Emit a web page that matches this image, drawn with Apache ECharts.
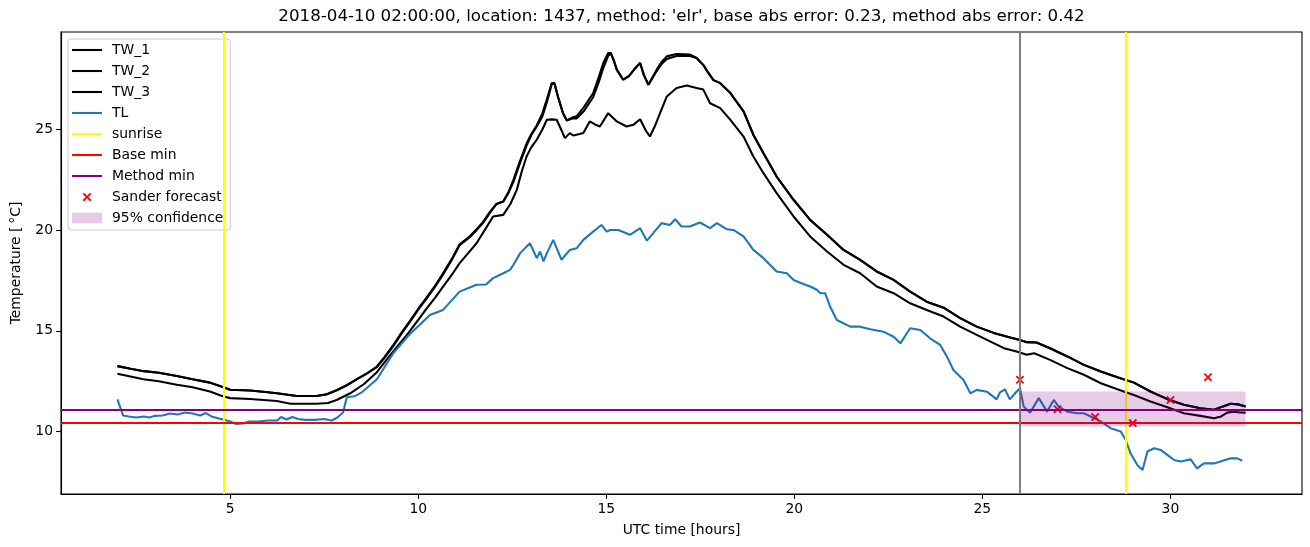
<!DOCTYPE html>
<html>
<head>
<meta charset="utf-8">
<script src="https://cdn.jsdelivr.net/npm/echarts@6/dist/echarts.min.js"></script>
<style>
html,body{margin:0;padding:0;background:#fff;}
#chart{width:1310px;height:547px;}
</style>
</head>
<body>
<div id="chart"></div>
<script>
// ---------------- data ----------------
const titleText = "2018-04-10 02:00:00, location: 1437, method: 'elr', base abs error: 0.23, method abs error: 0.42";
const xTicks = [5, 10, 15, 20, 25, 30];
const yTicks = [10, 15, 20, 25];

const tw12Hours = [2.0,2.35,2.7,3.1,3.58,4.0,4.46,4.82,5.0,5.53,6.0,6.24,6.77,7.3,7.57,7.83,8.1,8.37,8.65,8.9,
  9.1,9.34,9.55,9.78,10.0,10.22,10.45,10.66,10.9,11.1,11.37,11.55,11.72,11.9,12.08,12.26,12.4,12.53,12.7,12.88,
  13.0,13.15,13.3,13.42,13.55,13.62,13.72,13.85,13.95,14.1,14.21,14.4,14.65,14.8,14.92,15.05,15.12,15.2,15.28,15.45,
  15.6,15.75,15.9,16.0,16.12,16.34,16.47,16.61,16.87,17.23,17.4,17.58,17.7,17.85,18.03,18.3,18.65,18.92,19.18,19.53,
  19.98,20.42,20.87,21.31,21.75,22.19,22.64,23.08,23.52,23.97,24.41,24.85,25.3,25.74,26.0,26.18,26.44,26.8,27.26,27.7,
  28.15,28.59,29.03,29.47,29.92,30.36,30.8,31.16,31.4,31.6,31.8,32.0];
const tw1Temp = [13.25,13.12,13.0,12.92,12.76,12.6,12.43,12.2,12.08,12.04,11.95,11.9,11.77,11.77,11.85,12.05,12.3,12.6,12.9,13.23,
  13.7,14.3,14.9,15.5,16.1,16.65,17.25,17.86,18.6,19.3,19.7,20.05,20.4,20.9,21.3,21.42,21.9,22.5,23.4,24.3,
  24.75,25.2,25.8,26.5,27.3,27.3,26.6,25.8,25.45,25.6,25.65,26.1,26.8,27.6,28.3,28.8,28.8,28.4,27.97,27.47,
  27.65,28.0,28.3,27.7,27.22,27.97,28.35,28.63,28.75,28.72,28.55,28.2,27.85,27.45,27.3,26.81,25.9,24.7,23.82,22.66,
  21.51,20.51,19.77,19.02,18.53,17.95,17.53,16.95,16.45,16.15,15.63,15.21,14.9,14.67,14.55,14.44,14.42,14.14,13.73,13.31,
  12.98,12.70,12.43,11.99,11.61,11.33,11.16,11.08,11.25,11.38,11.35,11.25];
const tw2Temp = [13.25,13.12,13.0,12.92,12.76,12.6,12.43,12.2,12.08,12.04,11.95,11.9,11.77,11.77,11.85,12.05,12.3,12.6,12.9,13.2,
  13.65,14.25,14.85,15.45,16.05,16.6,17.2,17.8,18.55,19.25,19.65,20.0,20.35,20.85,21.3,21.42,21.85,22.4,23.3,24.2,
  24.7,25.15,25.65,26.35,27.25,27.3,26.6,25.8,25.45,25.55,25.55,25.9,26.6,27.35,28.05,28.65,28.78,28.45,27.97,27.47,
  27.65,28.0,28.3,27.7,27.22,27.9,28.25,28.5,28.65,28.65,28.55,28.2,27.85,27.45,27.3,26.81,25.9,24.7,23.82,22.66,
  21.51,20.51,19.77,19.02,18.53,17.95,17.53,16.95,16.45,16.15,15.63,15.21,14.9,14.67,14.55,14.44,14.42,14.14,13.73,13.31,
  12.98,12.70,12.43,11.99,11.61,11.33,11.16,11.08,11.25,11.38,11.35,11.25];

const tw3Hours = [2.0,2.69,3.1,3.58,4.0,4.46,4.82,5.0,5.53,6.24,6.6,7.3,7.6,7.83,8.19,8.55,8.9,9.15,9.43,9.7,
  9.96,10.22,10.45,10.66,10.9,11.1,11.3,11.55,11.8,11.99,12.26,12.45,12.62,12.75,12.88,13.0,13.15,13.3,13.42,13.55,
  13.68,13.8,13.9,14.03,14.12,14.21,14.39,14.56,14.7,14.83,15.05,15.28,15.54,15.72,15.9,16.05,16.16,16.3,16.43,16.61,
  16.87,17.14,17.4,17.58,17.76,18.03,18.3,18.65,18.91,19.18,19.53,19.98,20.42,20.87,21.31,21.75,22.19,22.64,23.08,23.52,
  23.97,24.41,24.85,25.3,25.6,25.91,26.18,26.38,26.8,27.26,27.7,28.15,28.59,29.03,29.47,29.92,30.36,30.8,31.16,31.35,
  31.51,31.69,31.85,32.0];
const tw3Temp = [12.87,12.6,12.5,12.32,12.2,11.99,11.74,11.66,11.62,11.52,11.38,11.38,11.42,11.57,11.9,12.35,12.95,13.55,14.2,14.8,
  15.45,16.1,16.65,17.2,17.8,18.36,18.8,19.35,20.1,20.68,20.76,21.3,22.0,22.9,23.66,24.1,24.49,25.0,25.48,25.5,
  25.48,25.0,24.57,24.82,24.7,24.74,24.82,25.4,25.25,25.15,25.81,25.4,25.15,25.23,25.51,24.95,24.65,25.2,25.81,26.64,
  27.06,27.18,27.06,26.98,26.3,26.06,25.48,24.65,23.66,22.83,21.84,20.68,19.69,18.94,18.28,17.86,17.20,16.87,16.37,16.04,
  15.71,15.21,14.80,14.39,14.12,13.98,13.81,13.89,13.56,13.15,12.82,12.40,12.10,11.82,11.49,11.21,10.91,10.78,10.66,10.75,
  10.94,10.99,10.95,10.94];

const tlHours = [2.0,2.15,2.3,2.5,2.7,2.85,3.0,3.2,3.4,3.6,3.8,4.0,4.2,4.35,4.5,4.8,5.0,5.15,5.35,5.5,
  5.75,6.0,6.25,6.35,6.5,6.65,6.8,7.0,7.25,7.5,7.7,7.85,8.0,8.1,8.3,8.5,8.9,9.34,9.78,10.04,
  10.31,10.66,11.1,11.37,11.55,11.8,11.99,12.26,12.44,12.53,12.71,12.97,13.15,13.24,13.33,13.42,13.59,13.81,14.03,14.21,
  14.39,14.65,14.87,15.01,15.1,15.32,15.63,15.9,16.08,16.25,16.47,16.69,16.83,17.0,17.22,17.49,17.76,17.94,18.2,18.38,
  18.65,18.91,19.18,19.53,19.8,19.98,20.24,20.42,20.6,20.69,20.82,20.95,21.13,21.49,21.75,22.02,22.37,22.64,22.82,23.08,
  23.35,23.61,23.88,24.06,24.23,24.5,24.68,24.85,25.12,25.38,25.47,25.6,25.73,25.87,26.0,26.1,26.27,26.5,26.72,26.9,
  27.03,27.26,27.52,27.7,27.88,28.15,28.41,28.68,28.81,28.94,29.12,29.26,29.39,29.57,29.74,29.92,30.1,30.27,30.54,30.71,
  30.89,31.16,31.33,31.6,31.78,31.91];
const tlTemp = [11.6,10.8,10.75,10.7,10.75,10.7,10.78,10.8,10.9,10.85,10.95,10.9,10.8,10.92,10.75,10.6,10.5,10.38,10.4,10.5,
  10.5,10.55,10.55,10.72,10.6,10.72,10.62,10.58,10.58,10.62,10.55,10.7,10.95,11.7,11.75,11.95,12.6,13.9,14.85,15.3,
  15.79,16.04,16.95,17.15,17.29,17.3,17.62,17.86,18.03,18.28,18.86,19.35,18.61,18.94,18.45,18.86,19.52,18.53,19.02,19.10,
  19.52,19.93,20.26,19.93,20.01,20.01,19.77,20.1,19.48,19.85,20.35,20.26,20.54,20.18,20.18,20.38,20.1,20.35,20.05,20.01,
  19.69,19.02,18.61,17.95,17.86,17.53,17.33,17.20,17.04,16.87,16.87,16.21,15.54,15.21,15.21,15.08,14.96,14.71,14.38,15.13,
  15.04,14.63,14.30,13.72,13.06,12.56,11.90,12.07,11.98,11.6,11.95,12.1,11.6,11.9,12.15,11.24,10.94,11.66,10.99,11.57,
  11.24,10.99,10.91,10.91,10.75,10.5,10.17,10.0,9.59,8.92,8.34,8.09,9.01,9.17,9.09,8.84,8.59,8.51,8.62,8.17,
  8.42,8.42,8.51,8.67,8.67,8.55];

const forecastHours = [26, 27, 28, 29, 30, 31];
const forecastTemp = [12.57, 11.11, 10.72, 10.42, 11.57, 12.70];

const sunriseHours = [4.84, 28.82];
const nowHour = 26;
const baseMin = 10.42;
const methodMin = 11.08;
const confHours = [26, 32];
const confTemp = [10.25, 11.99];

// ---------------- chart ----------------
const zip = (xs, ys) => xs.map((x, i) => [x, ys[i]]);
const FONT = 'DejaVu Sans';
const LW = 2.08;
const xMark = 'path://M0,1.5L1.5,0L5,3.5L8.5,0L10,1.5L6.5,5L10,8.5L8.5,10L5,6.5L1.5,10L0,8.5L3.5,5Z';
const xMarkLegend = 'path://M-3,-3L-3,-3M13,13L13,13M0,1.5L1.5,0L5,3.5L8.5,0L10,1.5L6.5,5L10,8.5L8.5,10L5,6.5L1.5,10L0,8.5L3.5,5Z';
const lineIcon = 'path://M0,0L30,0L30,2.08L0,2.08Z';
const confColor = 'rgba(128,0,128,0.2)';

function lineSeries(name, data, color) {
  return {
    name, type: 'line', data, symbol: 'none', showSymbol: false,
    lineStyle: { color, width: LW }, itemStyle: { color },
    emphasis: { disabled: true }, animation: false, z: 2
  };
}
function markSeries(name, color, markData) {
  return {
    name, type: 'line', data: [], symbol: 'none',
    lineStyle: { color, width: LW }, itemStyle: { color },
    markLine: {
      silent: true, symbol: ['none', 'none'], label: { show: false },
      lineStyle: { color, width: LW, type: 'solid' },
      emphasis: { disabled: true },
      data: markData
    },
    animation: false, z: 3
  };
}
function legendLine(name, color) {
  return { name, icon: lineIcon, itemStyle: { color } };
}

const chart = echarts.init(document.getElementById('chart'), null, { renderer: 'canvas' });
chart.setOption({
  animation: false,
  backgroundColor: '#ffffff',
  title: {
    text: titleText,
    left: 681.5, top: 8, textAlign: 'center', padding: 0,
    textStyle: { fontFamily: FONT, fontSize: 16.7, fontWeight: 'normal', color: '#000' }
  },
  grid: {
    left: 61, top: 32, width: 1241, height: 462,
    show: true, borderColor: '#000', borderWidth: 1.1, backgroundColor: 'transparent',
    outerBoundsMode: 'none'
  },
  legend: {
    orient: 'vertical', left: 68, top: 39,
    padding: [4, 7, 5, 4],
    itemWidth: 30, itemHeight: 14, itemGap: 7,
    backgroundColor: 'rgba(255,255,255,0.8)',
    borderColor: '#cccccc', borderWidth: 1, borderRadius: 3,
    textStyle: { fontFamily: FONT, fontSize: 13.9, color: '#000', lineHeight: 14, padding: [0, 0, 0, 5] },
    selectedMode: false,
    data: [
      legendLine('TW_1', '#000000'),
      legendLine('TW_2', '#000000'),
      legendLine('TW_3', '#000000'),
      legendLine('TL', '#1f77b4'),
      legendLine('sunrise', '#ffff00'),
      legendLine('Base min', '#ff0000'),
      legendLine('Method min', '#800080'),
      { name: 'Sander forecast', icon: xMarkLegend, itemStyle: { color: '#ff0000', opacity: 1 } },
      { name: '95% confidence', icon: 'path://M0,0L28,0L28,10L0,10Z', itemStyle: { color: confColor } }
    ]
  },
  xAxis: {
    type: 'value', min: 0.5, max: 33.5,
    name: 'UTC time [hours]', nameLocation: 'middle', nameGap: 29,
    nameTextStyle: { fontFamily: FONT, fontSize: 13.9, color: '#000' },
    axisLine: { show: true, lineStyle: { color: '#000', width: 1.1 } },
    axisTick: { show: true, length: 4.9, lineStyle: { color: '#000', width: 1.1 }, customValues: xTicks },
    axisLabel: { fontFamily: FONT, fontSize: 13.9, color: '#000', margin: 8, customValues: xTicks },
    splitLine: { show: false }
  },
  yAxis: {
    type: 'value', min: 6.9, max: 29.84,
    name: 'Temperature [\u2009\u00b0C]', nameLocation: 'middle', nameGap: 38, nameRotate: 90,
    nameTextStyle: { fontFamily: FONT, fontSize: 13.9, color: '#000' },
    axisLine: { show: true, lineStyle: { color: '#000', width: 1.1 } },
    axisTick: { show: true, length: 4.9, lineStyle: { color: '#000', width: 1.1 }, customValues: yTicks },
    axisLabel: { fontFamily: FONT, fontSize: 13.9, color: '#000', margin: 8, customValues: yTicks },
    splitLine: { show: false }
  },
  series: [
    lineSeries('TW_1', zip(tw12Hours, tw1Temp), '#000000'),
    lineSeries('TW_2', zip(tw12Hours, tw2Temp), '#000000'),
    lineSeries('TW_3', zip(tw3Hours, tw3Temp), '#000000'),
    lineSeries('TL', zip(tlHours, tlTemp), '#1f77b4'),
    markSeries('sunrise', '#ffff00', sunriseHours.map(h => ({ xAxis: h }))),
    markSeries('Base min', '#ff0000', [{ yAxis: baseMin }]),
    markSeries('Method min', '#800080', [{ yAxis: methodMin }]),
    markSeries('_now', '#808080', [{ xAxis: nowHour }]),
    {
      name: 'Sander forecast', type: 'scatter',
      data: zip(forecastHours, forecastTemp),
      symbol: xMark, symbolSize: 8.5,
      itemStyle: { color: '#ff0000', opacity: 1 },
      emphasis: { disabled: true }, animation: false, z: 4
    },
    {
      name: '95% confidence', type: 'custom',
      data: [[confHours[0], confHours[1], confTemp[0], confTemp[1]]],
      encode: { x: [0, 1], y: [2, 3] },
      itemStyle: { color: confColor },
      renderItem: function (params, api) {
        const p0 = api.coord([api.value(0), api.value(2)]);
        const p1 = api.coord([api.value(1), api.value(3)]);
        return {
          type: 'rect',
          shape: { x: p0[0], y: p1[1], width: p1[0] - p0[0], height: p0[1] - p1[1] },
          style: { fill: confColor }
        };
      },
      silent: true, animation: false, z: 5
    }
  ]
});
</script>
</body>
</html>
